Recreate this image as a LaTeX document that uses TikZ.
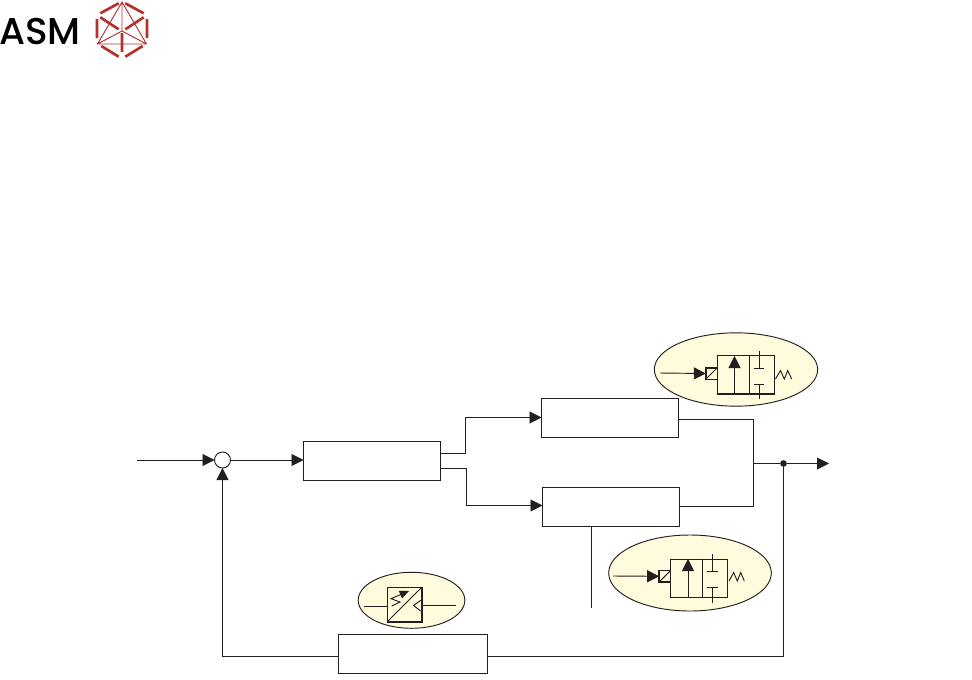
\documentclass[tikz,border=0pt]{standalone}
\usepackage{fontspec}
\setmainfont{Poppins Medium}
\usetikzlibrary{arrows.meta,shapes.geometric}
\definecolor{ink}{HTML}{231F20}
\definecolor{cream}{HTML}{FFFBDC}
\definecolor{logored}{HTML}{B5312C}
\tikzset{
  x=0.75pt,y=-0.75pt,
  wire/.style={draw=ink,line width=0.7pt},
  flow/.style={wire,-{Triangle[length=9pt,width=9pt]}},
  blockbox/.style={draw=ink,line width=0.8pt,fill=white,minimum width=#1,minimum height=29pt,inner sep=0pt,outer sep=0pt,anchor=north west},
  bubble/.style={draw=ink,line width=0.7pt,fill=cream,ellipse,inner sep=0pt,outer sep=0pt},
  part/.style={draw=ink,line width=0.7pt},
  heavy/.style={draw=ink,line width=1pt},
  hexseg/.style={draw=logored,line width=2pt},
  hexin/.style={draw=logored,line width=0.7pt},
}
\begin{document}
\begin{tikzpicture}
\useasboundingbox (0,0) rectangle (972,679);
% logo
\node[anchor=base west,inner sep=0pt,font=\fontsize{28}{28}\selectfont] (logotext) at (-1,44.5) {ASM};
\draw[hexseg] (118.7,3.3)--(100.3,13.3) (125.3,3.3)--(143.7,13.3) (97,19)--(97,38) (147,19)--(147,38)
  (101.3,46)--(118.7,56.7) (142.7,46)--(125.3,56.7) (122,33)--(122,52)
  (100.3,17.3)--(118.7,29.3) (143.7,17.3)--(125.3,29.3);
\draw[hexin] (122,2)--(97.5,44)--(146.5,44)--cycle (122,2)--(122,31) (97.5,44)--(122,31)--(146.5,44);
% bubbles
\node[bubble,minimum width=122.5pt,minimum height=55pt] (bubA) at (736,369.5) {};
\node[bubble,minimum width=122pt,minimum height=57pt] (bubB) at (690,573) {};
\node[bubble,minimum width=80pt,minimum height=42pt] (bubC) at (411.5,600.3) {};
% blocks
\node[blockbox=102.5pt] (ctrl) at (303.5,441.5) {};
\node[blockbox=102.5pt] (valveA) at (541.5,398.5) {};
\node[blockbox=103pt] (valveB) at (542.5,487.5) {};
\node[blockbox=111.5pt] (sensor) at (338.5,634.5) {};
\node[circle,draw=ink,line width=0.7pt,minimum size=12pt,inner sep=0pt,outer sep=0pt] (sum) at (222.5,460) {};
\coordinate (inp) at (137,460);
\coordinate (outp) at (829,463.5);
\coordinate (join) at (753.5,463.5);
\coordinate (dist) at (591,608);
\node[circle,fill=ink,minimum size=5pt,inner sep=0pt] (dot) at (783.5,463.5) {};
% connectors
\draw[flow] (inp) -- (sum);
\draw[flow] (sum) -- (sum -| ctrl.west);
\draw[flow] (ctrl.east |- 0,453.5) -- (465.5,453.5) -- (465.5,417.5) -- (valveA.west |- 0,417.5);
\draw[flow] (ctrl.east |- 0,468.5) -- (466.5,468.5) -- (466.5,505.5) -- (valveB.west |- 0,505.5);
\draw[wire] (valveA.east |- 0,419.5) -- (753.5,419.5) -- (753.5,506.5) -- (valveB.east |- 0,506.5);
\draw[wire] (join) -- (dot);
\draw[flow] (dot) -- (outp);
\draw[wire] (dot) |- (sensor.east |- 0,656.5);
\draw[flow] (sensor.west |- 0,656.5) -| (sum.south);
\draw[wire] (dist |- valveB.south) -- (dist);
% top valve
\coordinate (ia) at (660,373);
\node[draw=ink,line width=1pt,minimum size=8.5pt,inner sep=0pt,outer sep=0pt] (solA) at (711.5,373.5) {};
\draw[flow] (ia) -- (solA.west);
\draw[part] (solA.south west) -- (solA.north east);
\node[heavy,minimum width=42.75pt,minimum height=28.7pt,inner sep=0pt,outer sep=0pt] (bodyA) at (745.8,374.8) {};
\draw[part] (749.5,355.7) -- (749.5,394);
\draw[flow] (734.5,394) -- (734.5,356);
\draw[part] (759.5,350.7) -- (759.5,368.5) (754,368.5) -- (764,368.5)
  (759.5,399.3) -- (759.5,384.5) (754,384.5) -- (764,384.5);
\draw[part] (775.5,379) -- (780.5,370.5) -- (784.3,379) -- (787.7,370.5) -- (791.7,379);
% lower valve
\coordinate (ib) at (613,576);
\node[draw=ink,line width=1pt,minimum size=8.5pt,inner sep=0pt,outer sep=0pt] (solB) at (664.8,576.3) {};
\draw[flow] (ib) -- (solB.west);
\draw[part] (solB.south west) -- (solB.north east);
\node[part,minimum width=43pt,minimum height=28.5pt,inner sep=0pt,outer sep=0pt] (bodyB) at (699,578) {};
\draw[part] (702.5,559) -- (702.5,597);
\draw[flow] (688,597) -- (688,559);
\draw[part] (712.5,554) -- (712.5,571) (707.3,571) -- (718,571)
  (712.5,603.3) -- (712.5,587.5) (707.3,587.5) -- (718,587.5);
\draw[part] (729,581) -- (733.7,572.5) -- (737.3,581) -- (740.7,572.5) -- (744.3,581);
% transducer
\node[heavy,minimum size=26pt,inner sep=0pt,outer sep=0pt] (trans) at (404.5,604.5) {};
\draw[part] (trans.south west) -- (trans.north east);
\coordinate (tl) at (364,606.5);
\coordinate (tr) at (456,605.5);
\draw[part] (tl) -- (trans.west |- tl);
\draw[part] (tr) -- (trans.east |- tr);
\draw[part] (420.7,600.3) -- (413.5,605.5) -- (420.7,611);
\draw[part,-{Triangle[length=7pt,width=6pt]}] (391.7,606) -- (400,602) -- (391,598.7) -- (409,591);
\end{tikzpicture}
\end{document}
